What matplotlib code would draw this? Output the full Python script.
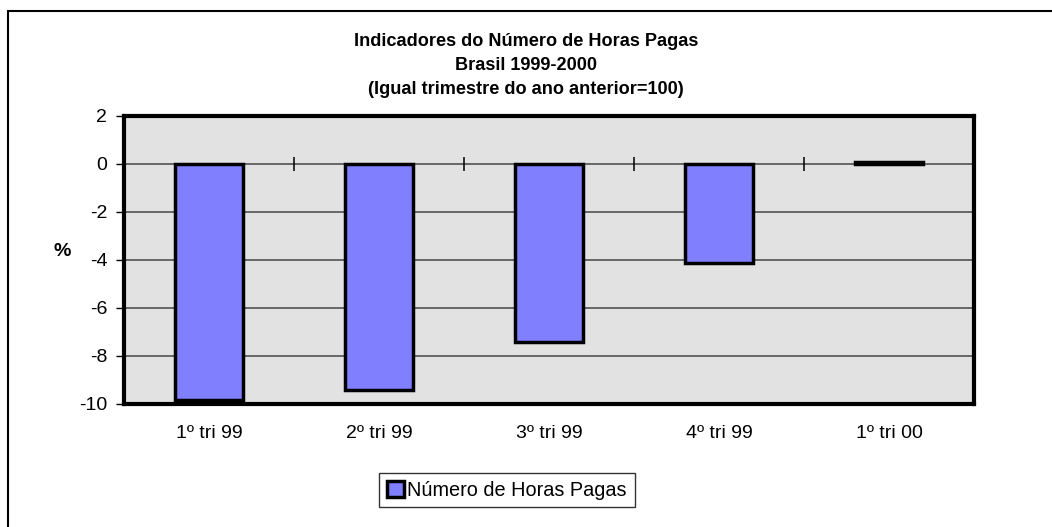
import matplotlib
matplotlib.use("Agg")
import matplotlib.pyplot as plt
import matplotlib.patches as mpatches
import numpy as np

categories = ["1º tri 99", "2º tri 99", "3º tri 99", "4º tri 99", "1º tri 00"]
values = [-9.83, -9.42, -7.4, -4.13, 0.07]
series_name = "Número de Horas Pagas"
title_lines = ["Indicadores do Número de Horas Pagas",
               "Brasil 1999-2000",
               "(Igual trimestre do ano anterior=100)"]
yticks = [2, 0, -2, -4, -6, -8, -10]

plt.rcParams['font.family'] = ['Liberation Sans', 'DejaVu Sans']

W, H = 1052, 527
fig = plt.figure(figsize=(W / 100, H / 100), dpi=100)
fig.patch.set_facecolor("white")

ax = fig.add_axes([124 / W, 1 - 404 / H, 850 / W, 288 / H])
ax.set_facecolor("#e2e2e2")

x = np.arange(len(categories))
bars = ax.bar(x, values, width=0.4, color="#8080ff", edgecolor="black",
              linewidth=2.5, label=series_name, zorder=3)

ax.set_xlim(-0.5, len(categories) - 0.5)
ax.set_ylim(-10, 2)
ax.set_yticks(yticks)
ax.set_yticklabels([str(v) for v in yticks], fontsize=14)
ax.set_xticks(x)
ax.set_xticklabels(categories, fontsize=14)
ax.tick_params(axis="x", length=0, pad=15)
ax.tick_params(axis="y", length=6, width=1, pad=6, direction="out")

ax.yaxis.grid(True, color="#666666", linewidth=1.4, zorder=1)
ax.set_axisbelow(True)

for s in ax.spines.values():
    s.set_linewidth(3)
    s.set_color("black")
    s.set_zorder(5)

# category boundary ticks on the zero line
bounds = x[:-1] + 0.5
ax.vlines(bounds, -0.3, 0.3, color="black", linewidth=1.1, zorder=4)

ax.set_ylabel("%", rotation=0, fontsize=14, fontweight="bold")
ax.yaxis.set_label_coords((62 - 124) / 850, 0.5)

ys = [41, 65, 89]
for t, yy in zip(title_lines, ys):
    fig.text(526 / W, 1 - yy / H, t, ha="center", va="center",
             fontsize=13.1, fontweight="bold")

leg = fig.legend(handles=[bars], labels=[series_name], loc="center",
                 bbox_to_anchor=(507 / W, 1 - 490 / H), fontsize=14.3,
                 frameon=True, fancybox=False, shadow=False,
                 handlelength=0.85, handleheight=0.85, handletextpad=0.15,
                 borderpad=0.4, borderaxespad=0)
leg.get_frame().set_edgecolor("black")
leg.get_frame().set_linewidth(1.0)

# outer frame (extends past the right and bottom edges)
frame = mpatches.Rectangle((8 / W, -0.1), 1.2, 1 - 11 / H + 0.1,
                           transform=fig.transFigure, fill=False,
                           edgecolor="black", linewidth=1.5)
fig.patches.append(frame)

fig.savefig("out.png", dpi=100)
